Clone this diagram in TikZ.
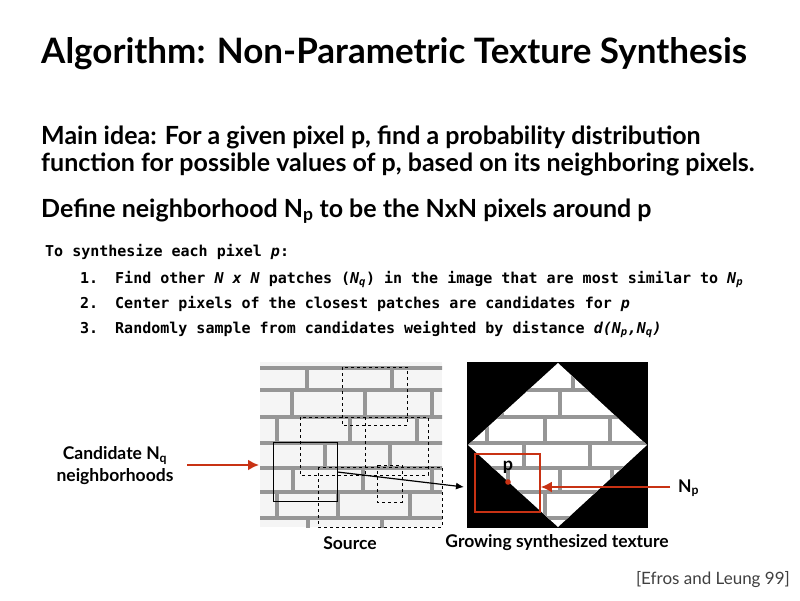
\documentclass[tikz,border=0pt]{standalone}
\usepackage{fontspec}
\usetikzlibrary{arrows.meta}
\setmainfont{Lato}
\setmonofont{DejaVu Sans Mono}
\definecolor{redc}{RGB}{200,50,20}
\definecolor{mortar}{RGB}{150,150,150}
\begin{document}
\begin{tikzpicture}[x=1pt,y=-1pt,
  mono/.style={anchor=base west,inner sep=0,font=\ttfamily\bfseries\fontsize{15}{17}\selectfont},
  body/.style={anchor=base west,inner sep=0,font=\fontsize{25}{30}\selectfont\bfseries},
  lab/.style={inner sep=0,font=\fontsize{17.5}{20}\selectfont\bfseries},
  mort/.style={draw=mortar,line width=4.5pt},
  dsh/.style={draw=black,dashed,line width=0.6pt},
  rarrow/.style={draw=redc,line width=2.5pt,-{Latex[length=11pt,width=11pt]}}]
\useasboundingbox (0,0) rectangle (800,600);
\fill[white] (0,0) rectangle (800,600);
\node[anchor=base west,inner sep=0,font=\fontsize{35}{40}\selectfont\bfseries] (title) at (41,63) {Algorithm: Non-Parametric Texture Synthesis};
\node[body] (b1) at (41,144) {Main idea: For a given pixel p, find a probability distribution};
\node[body] (b2) at (41,171) {function for possible values of p, based on its neighboring pixels.};
\node[body] (b3) at (41,217) {Define neighborhood N\textsubscript{p} to be the NxN pixels around p};
\node[mono] (m0) at (45,256) {To synthesize each pixel \textit{p}:};
\node[mono] (n1) at (80,283) {1.};
\node[mono] (m1) at (115,283) {Find other \textit{N x N} patches (\textit{N\textsubscript{q}}) in the image that are most similar to \textit{N\textsubscript{p}}};
\node[mono] (n2) at (80,308) {2.};
\node[mono] (m2) at (115,308) {Center pixels of the closest patches are candidates for \textit{p}};
\node[mono] (n3) at (80,333) {3.};
\node[mono] (m3) at (115,333) {Randomly sample from candidates weighted by distance \textit{d(N\textsubscript{p},N\textsubscript{q})}};
% source texture
\begin{scope}
\clip (260,362) rectangle (442,527);
\fill[gray!8] (260,362) rectangle (442,527);
\foreach \y in {368,390,417,443,468,492,518} \draw[mort] (255,\y) -- (447,\y);
\foreach \x in {307,392} \draw[mort] (\x,368) -- (\x,390);
\foreach \x in {292,365,432} \draw[mort] (\x,390) -- (\x,417);
\foreach \x in {277,350,417} \draw[mort] (\x,417) -- (\x,443);
\foreach \x in {325,390} \draw[mort] (\x,443) -- (\x,468);
\foreach \x in {293,363,432} \draw[mort] (\x,468) -- (\x,492);
\foreach \x in {277,338,410} \draw[mort] (\x,492) -- (\x,518);
\foreach \x in {308,382} \draw[mort] (\x,518) -- (\x,530);
\end{scope}
\draw[dsh] (342,367) rectangle (407,425);
\draw[dsh] (300,417) rectangle (428,475);
\draw[dsh] (318,467) rectangle (442,527);
\draw[dsh] (377,465) rectangle (402,502);
\draw[dsh] (365,417) -- (365,475);
\node[draw=black,line width=0.8pt,inner sep=0,minimum width=64pt,minimum height=59pt] (nq) at (305,471.5) {};
% synthesized
\fill[black] (467,362) rectangle (648,528);
\begin{scope}
\clip (558,363) -- (647,445) -- (558,527) -- (468,445) -- cycle;
\fill[white] (467,362) rectangle (648,528);
\foreach \y in {390,417,443,468,492,518} \draw[mort] (460,\y) -- (655,\y);
\foreach \x in {573} \draw[mort] (\x,368) -- (\x,390);
\foreach \x in {502,560,625} \draw[mort] (\x,390) -- (\x,417);
\foreach \x in {487,545,610} \draw[mort] (\x,417) -- (\x,443);
\foreach \x in {524,590} \draw[mort] (\x,443) -- (\x,468);
\foreach \x in {508,560,612} \draw[mort] (\x,468) -- (\x,492);
\foreach \x in {545} \draw[mort] (\x,492) -- (\x,518);
\end{scope}
\node[draw=redc,line width=1.5pt,inner sep=0,minimum width=65pt,minimum height=58pt] (np) at (507.5,483) {};
\fill[redc] (508,482) circle (2.8pt);
\node[lab,font=\fontsize{18}{20}\selectfont\bfseries] (p) at (508,467) {p};
\draw[-{Latex[length=8pt,width=7pt]},line width=1.2pt] (nq.east |- 0,472) -- (464,487);
% labels
\node[lab,align=center] (cand) at (115,466) {Candidate N\textsubscript{q}\\[2pt]neighborhoods};
\coordinate (lt) at (259,465);
\draw[rarrow] (187,465) -- (lt);
\node[lab,anchor=west] (nplab) at (678,488) {N\textsubscript{p}};
\draw[rarrow] (670,487) -- (np.east |- 0,487);
\node[lab] (src) at (350,543) {Source};
\node[lab] (grow) at (557,543) {Growing synthesized texture};
\node[anchor=east,inner sep=0,font=\fontsize{17}{19}\selectfont,text=black!75] (ref) at (790,580) {[Efros and Leung 99]};
\end{tikzpicture}
\end{document}
